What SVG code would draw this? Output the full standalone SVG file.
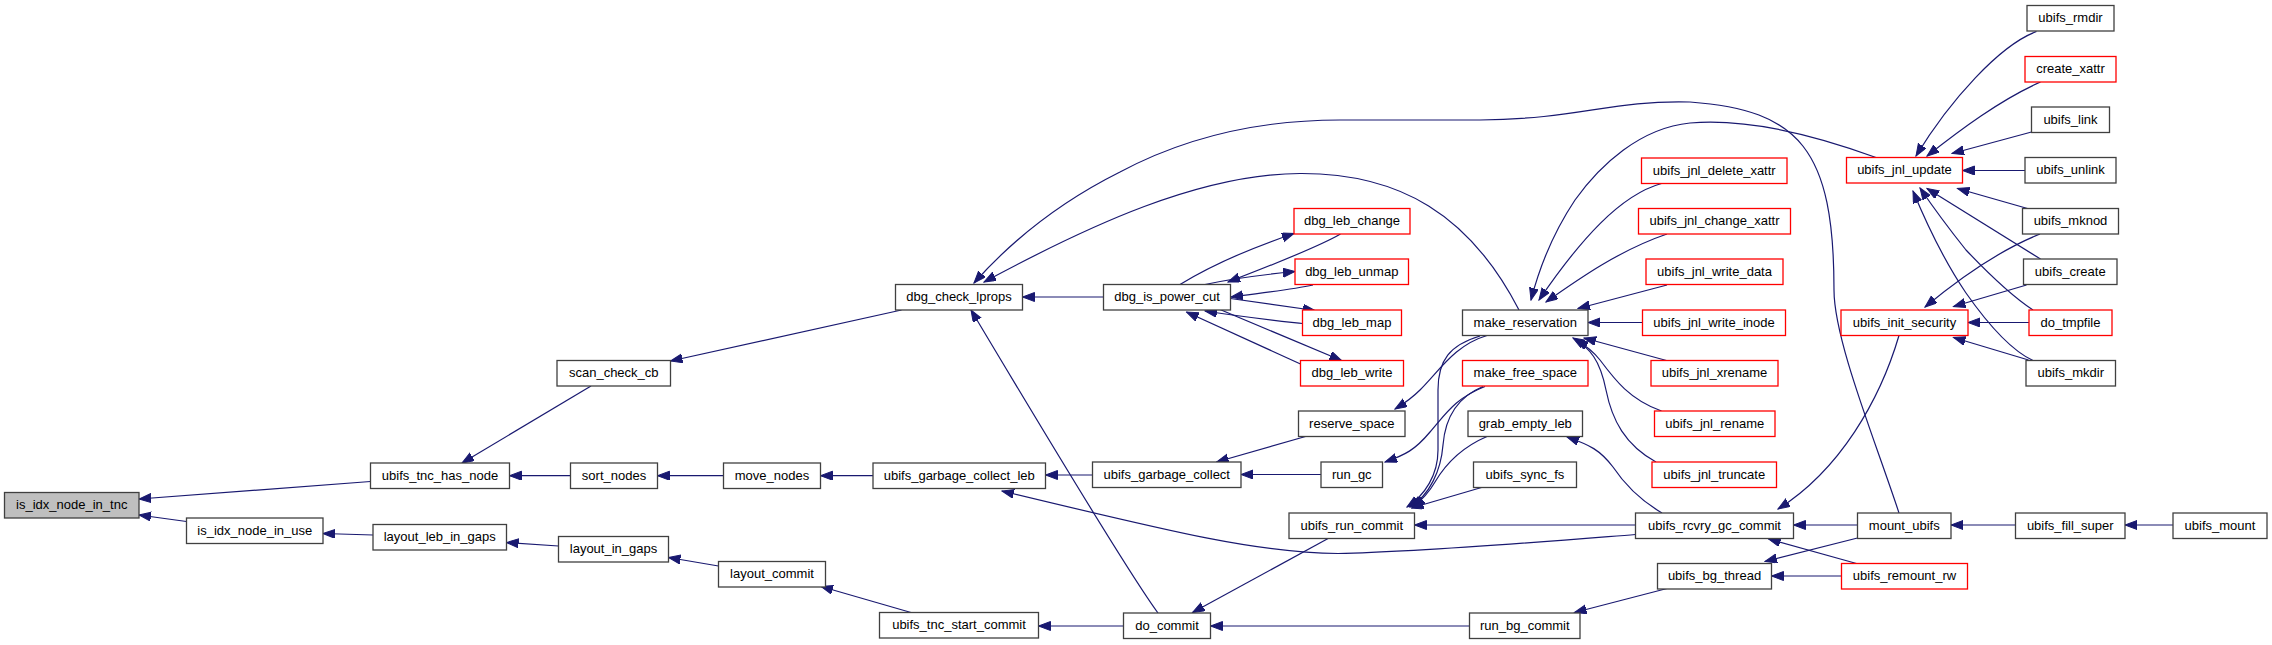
<svg xmlns="http://www.w3.org/2000/svg" width="2272" height="645" viewBox="0 0 2272 645">
<style>
.n rect{fill:#fff;stroke:#404040;stroke-width:1.3}
.r rect{fill:#fff;stroke:#ff0000;stroke-width:1.3}
.g rect{fill:#bfbfbf;stroke:#404040;stroke-width:1.3}
text{font-family:"Liberation Sans",Arial,sans-serif;font-size:13px;fill:#000;text-anchor:middle}
.e path{fill:none;stroke:#191970;stroke-width:1.2;marker-end:url(#ah)}
</style>
<defs>
<marker id="ah" markerUnits="userSpaceOnUse" markerWidth="13" markerHeight="10" refX="12" refY="4.5" orient="auto">
<path d="M0,0 L12,4.5 L0,9 Z" fill="#191970" stroke="#191970" stroke-width="1"/>
</marker>
</defs>
<rect width="2272" height="645" fill="#fff"/>
<g class="e" id="edges">
<path d="M370.5,481.5 L139,499"/>
<path d="M186.5,521.5 L139,515"/>
<path d="M591,386 L462,463"/>
<path d="M570.5,475.7 L509.5,475.7"/>
<path d="M373,535 L323,533.5"/>
<path d="M558.5,546 L506.5,542.5"/>
<path d="M901.5,310 L670.5,361"/>
<path d="M723.5,475.7 L657.5,475.7"/>
<path d="M873,475.7 L820.5,475.7"/>
<path d="M1092.5,475 L1045.5,475"/>
<path d="M1635.5,534.5 C1540,542 1420,552 1338,553.5 C1260,553 1180,534 1002,491"/>
<path d="M718.5,566 L668.5,557.5"/>
<path d="M911,612.5 L821,586.5"/>
<path d="M1123.5,626 L1038.5,626"/>
<path d="M1158,613 Q1125,568 971,310"/>
<path d="M1103.5,297 L1022.5,297"/>
<path d="M1519,310 C1470,215 1400,173 1300,173.5 C1200,174 1090,225 984,282"/>
<path d="M1899,513 C1875,440 1834,340 1834,290 C1834,150 1800,110 1690,102 C1610,100 1580,119 1480,120 L1340,120 C1250,120 1180,140 1120,172 C1090,187 1030,220 974,283"/>
<path d="M1180,284.5 C1220,260 1260,245 1294,233.5"/>
<path d="M1340.5,234 C1320,246 1280,262 1228,282"/>
<path d="M1205,284.5 C1230,279 1260,275 1295,271.5"/>
<path d="M1313,285 C1290,290 1260,293 1231,297"/>
<path d="M1230.5,298.5 L1315,310.5"/>
<path d="M1302.5,323.5 C1280,321 1250,318 1205,311"/>
<path d="M1220,309.5 L1341.5,360.5"/>
<path d="M1300.5,364 L1186.5,312"/>
<path d="M1305.5,436.5 L1216.5,462"/>
<path d="M1487,335.5 C1455,345 1440,370 1420,390 Q1410,400 1395,409"/>
<path d="M1321,474.5 L1241,474.5"/>
<path d="M1485,386.5 C1455,398 1445,415 1430,432 C1415,450 1405,455 1385,462"/>
<path d="M1480,336 C1450,345 1438,360 1438,390 L1438,450 C1438,475 1425,495 1407,507"/>
<path d="M1483,386.5 C1455,398 1445,420 1443,445 C1441,470 1430,495 1410,507"/>
<path d="M1487,436.5 C1460,448 1445,465 1435,482 C1428,494 1422,500 1413,507"/>
<path d="M1481.5,487.5 L1411.5,508"/>
<path d="M1635.5,525 L1414.5,525"/>
<path d="M1329,538 L1192.5,612.5"/>
<path d="M1469.5,626 L1210.5,626"/>
<path d="M1667,588.5 L1574.5,612.5"/>
<path d="M1662,513 C1640,500 1625,485 1613,467 C1600,450 1590,445 1567,437"/>
<path d="M1876,157.5 C1820,137 1750,118 1690,123 C1640,128 1600,165 1575,200 C1555,230 1540,265 1531,300"/>
<path d="M1661.5,183.5 C1620,195 1580,240 1539,300"/>
<path d="M1667,234 C1620,250 1580,278 1546,302"/>
<path d="M1667,285 L1578,308.5"/>
<path d="M1642.5,322.5 L1588,322.5"/>
<path d="M1666.5,360.5 L1584,338"/>
<path d="M1661.5,411 C1630,400 1615,380 1600,360 C1592,350 1585,345 1576,340"/>
<path d="M1656,462 C1625,445 1612,420 1606,390 C1600,360 1590,348 1573,338"/>
<path d="M1899,335.5 C1880,400 1840,470 1778,509"/>
<path d="M1857.5,525 L1793.5,525"/>
<path d="M1856.5,563.5 L1768.5,539"/>
<path d="M1857.5,538 L1765,561.5"/>
<path d="M1841.5,576 L1771.5,576"/>
<path d="M2015.5,525 L1951,525"/>
<path d="M2173,525 L2125,525"/>
<path d="M2036.5,31.5 C2000,45 1950,100 1916,156"/>
<path d="M2040.5,82 C2000,100 1960,130 1927,156"/>
<path d="M2031.5,132 L1952,153.5"/>
<path d="M2025,170.5 L1962.5,170.5"/>
<path d="M2027.5,208.5 L1957.5,188.5"/>
<path d="M2040.5,259 L1927,188.5"/>
<path d="M2033,310 C2010,295 1985,270 1966,250 C1950,230 1935,210 1920,188"/>
<path d="M2033,360.5 C2010,350 1985,320 1966,293 C1945,262 1925,220 1913,191"/>
<path d="M2040,234 C2000,250 1960,278 1925,307"/>
<path d="M2026.5,285 L1953.5,306.5"/>
<path d="M2029,322.5 L1968,322.5"/>
<path d="M2028.5,360 L1953.5,337.5"/>
</g>
<g id="is_idx_node_in_tnc" class="g"><rect x="4.5" y="492.5" width="134.5" height="25.5"/><text x="71.75" y="509">is_idx_node_in_tnc</text></g>
<g id="ubifs_tnc_has_node" class="n"><rect x="370.5" y="463" width="139" height="25.5"/><text x="440" y="479.5">ubifs_tnc_has_node</text></g>
<g id="is_idx_node_in_use" class="n"><rect x="186.5" y="518" width="136.5" height="25.5"/><text x="254.75" y="534.5">is_idx_node_in_use</text></g>
<g id="layout_leb_in_gaps" class="n"><rect x="373" y="524.5" width="133.5" height="25.5"/><text x="439.75" y="541">layout_leb_in_gaps</text></g>
<g id="scan_check_cb" class="n"><rect x="557" y="360.5" width="113.5" height="25.5"/><text x="613.75" y="377">scan_check_cb</text></g>
<g id="sort_nodes" class="n"><rect x="570.5" y="463" width="87" height="25.5"/><text x="614" y="479.5">sort_nodes</text></g>
<g id="layout_in_gaps" class="n"><rect x="558.5" y="536.5" width="110" height="25.5"/><text x="613.5" y="553">layout_in_gaps</text></g>
<g id="dbg_check_lprops" class="n"><rect x="895.5" y="284.5" width="127" height="25.5"/><text x="959" y="301">dbg_check_lprops</text></g>
<g id="move_nodes" class="n"><rect x="723.5" y="463" width="97" height="25.5"/><text x="772" y="479.5">move_nodes</text></g>
<g id="layout_commit" class="n"><rect x="718.5" y="561.5" width="107" height="25.5"/><text x="772" y="578">layout_commit</text></g>
<g id="ubifs_garbage_collect_leb" class="n"><rect x="873" y="463" width="172.5" height="25.5"/><text x="959.25" y="479.5">ubifs_garbage_collect_leb</text></g>
<g id="ubifs_tnc_start_commit" class="n"><rect x="879.5" y="612.5" width="159" height="25.5"/><text x="959" y="629">ubifs_tnc_start_commit</text></g>
<g id="dbg_is_power_cut" class="n"><rect x="1103.5" y="284.5" width="127" height="25.5"/><text x="1167" y="301">dbg_is_power_cut</text></g>
<g id="ubifs_garbage_collect" class="n"><rect x="1092.5" y="462" width="148.5" height="25.5"/><text x="1166.75" y="478.5">ubifs_garbage_collect</text></g>
<g id="do_commit" class="n"><rect x="1123.5" y="613" width="87" height="25.5"/><text x="1167" y="629.5">do_commit</text></g>
<g id="dbg_leb_change" class="r"><rect x="1294" y="208.5" width="116" height="25.5"/><text x="1352" y="225">dbg_leb_change</text></g>
<g id="dbg_leb_unmap" class="r"><rect x="1295" y="259" width="113.5" height="25.5"/><text x="1351.75" y="275.5">dbg_leb_unmap</text></g>
<g id="dbg_leb_map" class="r"><rect x="1302.5" y="310" width="99" height="25.5"/><text x="1352" y="326.5">dbg_leb_map</text></g>
<g id="dbg_leb_write" class="r"><rect x="1300.5" y="360.5" width="103" height="25.5"/><text x="1352" y="377">dbg_leb_write</text></g>
<g id="reserve_space" class="n"><rect x="1298.5" y="411" width="106.5" height="25.5"/><text x="1351.75" y="427.5">reserve_space</text></g>
<g id="run_gc" class="n"><rect x="1321" y="462" width="61.5" height="25.5"/><text x="1351.75" y="478.5">run_gc</text></g>
<g id="ubifs_run_commit" class="n"><rect x="1289" y="513" width="125.5" height="25.5"/><text x="1351.75" y="529.5">ubifs_run_commit</text></g>
<g id="make_reservation" class="n"><rect x="1462.5" y="310" width="125.5" height="25.5"/><text x="1525.25" y="326.5">make_reservation</text></g>
<g id="make_free_space" class="r"><rect x="1462.5" y="360.5" width="125.5" height="25.5"/><text x="1525.25" y="377">make_free_space</text></g>
<g id="grab_empty_leb" class="n"><rect x="1468" y="411" width="114.5" height="25.5"/><text x="1525.25" y="427.5">grab_empty_leb</text></g>
<g id="ubifs_sync_fs" class="n"><rect x="1473.5" y="462" width="103" height="25.5"/><text x="1525" y="478.5">ubifs_sync_fs</text></g>
<g id="run_bg_commit" class="n"><rect x="1469.5" y="613" width="110.5" height="25.5"/><text x="1524.75" y="629.5">run_bg_commit</text></g>
<g id="ubifs_jnl_delete_xattr" class="r"><rect x="1641.5" y="158" width="145.5" height="25.5"/><text x="1714.25" y="174.5">ubifs_jnl_delete_xattr</text></g>
<g id="ubifs_jnl_change_xattr" class="r"><rect x="1638.5" y="208.5" width="152" height="25.5"/><text x="1714.5" y="225">ubifs_jnl_change_xattr</text></g>
<g id="ubifs_jnl_write_data" class="r"><rect x="1646" y="259" width="137" height="25.5"/><text x="1714.5" y="275.5">ubifs_jnl_write_data</text></g>
<g id="ubifs_jnl_write_inode" class="r"><rect x="1642.5" y="310" width="143" height="25.5"/><text x="1714" y="326.5">ubifs_jnl_write_inode</text></g>
<g id="ubifs_jnl_xrename" class="r"><rect x="1651" y="360.5" width="127" height="25.5"/><text x="1714.5" y="377">ubifs_jnl_xrename</text></g>
<g id="ubifs_jnl_rename" class="r"><rect x="1654.5" y="411" width="120.5" height="25.5"/><text x="1714.75" y="427.5">ubifs_jnl_rename</text></g>
<g id="ubifs_jnl_truncate" class="r"><rect x="1652" y="462" width="124.5" height="25.5"/><text x="1714.25" y="478.5">ubifs_jnl_truncate</text></g>
<g id="ubifs_rcvry_gc_commit" class="n"><rect x="1635.5" y="513" width="158" height="25.5"/><text x="1714.5" y="529.5">ubifs_rcvry_gc_commit</text></g>
<g id="ubifs_bg_thread" class="n"><rect x="1657.5" y="563.5" width="114" height="25.5"/><text x="1714.5" y="580">ubifs_bg_thread</text></g>
<g id="ubifs_jnl_update" class="r"><rect x="1846.5" y="157.5" width="116" height="25.5"/><text x="1904.5" y="174">ubifs_jnl_update</text></g>
<g id="ubifs_init_security" class="r"><rect x="1841" y="310" width="127" height="25.5"/><text x="1904.5" y="326.5">ubifs_init_security</text></g>
<g id="mount_ubifs" class="n"><rect x="1857.5" y="513" width="93.5" height="25.5"/><text x="1904.25" y="529.5">mount_ubifs</text></g>
<g id="ubifs_remount_rw" class="r"><rect x="1841.5" y="563.5" width="126" height="25.5"/><text x="1904.5" y="580">ubifs_remount_rw</text></g>
<g id="ubifs_rmdir" class="n"><rect x="2027" y="5.5" width="87" height="25.5"/><text x="2070.5" y="22">ubifs_rmdir</text></g>
<g id="create_xattr" class="r"><rect x="2025" y="56.5" width="91" height="25.5"/><text x="2070.5" y="73">create_xattr</text></g>
<g id="ubifs_link" class="n"><rect x="2031.5" y="107" width="78" height="25.5"/><text x="2070.5" y="123.5">ubifs_link</text></g>
<g id="ubifs_unlink" class="n"><rect x="2025" y="157.5" width="91" height="25.5"/><text x="2070.5" y="174">ubifs_unlink</text></g>
<g id="ubifs_mknod" class="n"><rect x="2022.5" y="208.5" width="96" height="25.5"/><text x="2070.5" y="225">ubifs_mknod</text></g>
<g id="ubifs_create" class="n"><rect x="2023.5" y="259" width="93.5" height="25.5"/><text x="2070.25" y="275.5">ubifs_create</text></g>
<g id="do_tmpfile" class="r"><rect x="2029" y="310" width="83" height="25.5"/><text x="2070.5" y="326.5">do_tmpfile</text></g>
<g id="ubifs_mkdir" class="n"><rect x="2026" y="360.5" width="89.5" height="25.5"/><text x="2070.75" y="377">ubifs_mkdir</text></g>
<g id="ubifs_fill_super" class="n"><rect x="2015.5" y="513" width="109.5" height="25.5"/><text x="2070.25" y="529.5">ubifs_fill_super</text></g>
<g id="ubifs_mount" class="n"><rect x="2173" y="513" width="94" height="25.5"/><text x="2220" y="529.5">ubifs_mount</text></g>
</svg>
